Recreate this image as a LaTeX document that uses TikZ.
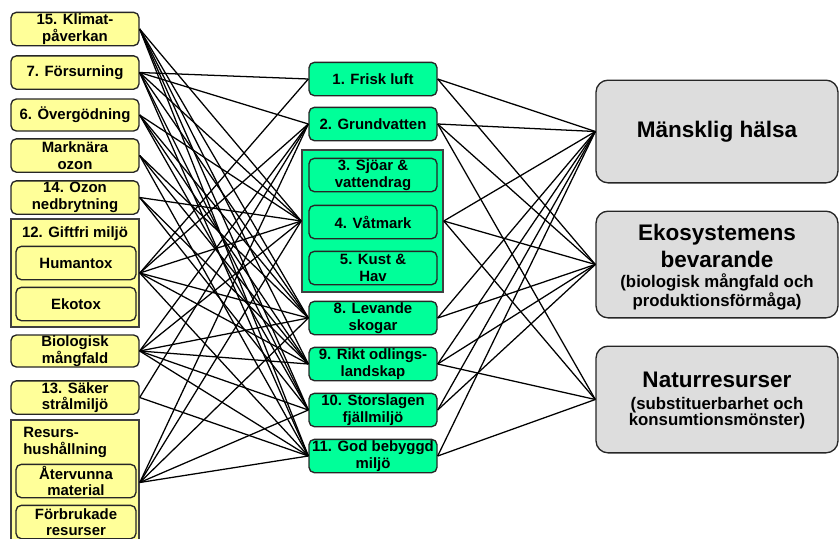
\documentclass[tikz,border=0pt]{standalone}
\usepackage{fontspec}
\setmainfont{Liberation Sans}
\usepackage{tikz}
\usetikzlibrary{positioning}
\definecolor{paleyellow}{RGB}{255,255,153}
\definecolor{mintgreen}{RGB}{0,255,153}
\definecolor{lightgray}{RGB}{221,221,221}
\tikzstyle{Lgoal}=[shape=rectangle,rounded corners=4pt,draw=black!85,line width=1pt,fill=paleyellow,minimum width=96pt,minimum height=25pt,inner sep=0pt,align=center,font=\bfseries\fontsize{11.2}{12.4}\selectfont]
\tikzstyle{Lsub}=[Lgoal,minimum width=90pt]
\tikzstyle{Lgroup}=[shape=rectangle,draw=black!75,line width=1.2pt,fill=paleyellow,minimum width=96pt]
\tikzstyle{Mgoal}=[Lgoal,fill=mintgreen]
\tikzstyle{Mgroup}=[Lgroup,fill=mintgreen,minimum width=105.75pt]
\tikzstyle{Rgoal}=[shape=rectangle,rounded corners=9pt,draw=black!85,line width=1pt,fill=lightgray,minimum width=181.5pt,align=center,font=\bfseries\fontsize{16.9}{20.5}\selectfont]
\tikzstyle{Rsub}=[align=center,font=\bfseries\fontsize{12.6}{12.4}\selectfont]
\tikzstyle{grouptitle}=[font=\bfseries\fontsize{11.2}{12.4}\selectfont]
\tikzstyle{link}=[black,line width=0.95pt]
\begin{document}
\begin{tikzpicture}[x=0.75pt,y=-0.75pt]
\useasboundingbox (0,0) rectangle (840,539);

% left column
\node[Lgoal] (KLIM) at (75,29) {15. Klimat-\\påverkan};
\node[Lgoal] (FORS) at (75,72.5) {7. Försurning};
\node[Lgoal,minimum height=24pt] (OVER) at (75,115) {6. Övergödning};
\node[Lgoal] (OZMA) at (75,155.5) {Marknära\\ozon};
\node[Lgoal] (OZNB) at (75,197.5) {14. Ozon\\nedbrytning};
\node[Lgroup,minimum height=81pt] (GIFT) at (75,273) {};
\node[grouptitle] (GIFTT) at (75,234) {12. Giftfri miljö};
\node[Lsub] (HUMT) at (76,263) {Humantox};
\node[Lsub] (EKOT) at (76,304) {Ekotox};
\node[Lgoal,minimum height=24pt] (BIOL) at (75,351) {Biologisk\\mångfald};
\node[Lgoal] (STRL) at (75,397.5) {13. Säker\\strålmiljö};
\node[Lgroup,minimum height=93.75pt] (RESU) at (75,482.5) {};
\node[grouptitle,align=left,anchor=north west,inner sep=0pt] (RESUT) at (23,427) {Resurs-\\hushållning};
\node[Lsub] (ATER) at (76,481) {Återvunna\\material};
\node[Lsub] (FORB) at (76,522) {Förbrukade\\resurser};

% middle column
\node[Mgoal] (LUFT) at (373,79) {1. Frisk luft};
\node[Mgoal] (GRUN) at (373,124) {2. Grundvatten};
\node[Mgroup,minimum height=106.5pt] (VATN) at (372.5,221) {};
\node[Mgoal] (SJOA) at (373,175) {3. Sjöar \&\\vattendrag};
\node[Mgoal] (VATM) at (373,222) {4. Våtmark};
\node[Mgoal] (KUST) at (373,268) {5. Kust \&\\Hav};
\node[Mgoal] (SKOG) at (373,318) {8. Levande\\skogar};
\node[Mgoal] (ODLA) at (373,364) {9. Rikt odlings-\\landskap};
\node[Mgoal] (FJAL) at (373,410) {10. Storslagen\\fjällmiljö};
\node[Mgoal] (BEBY) at (373,456) {11. God bebyggd\\miljö};

% right column
\node[Rgoal,minimum height=77pt] (HALS) at (717,131.5) {Mänsklig hälsa};
\node[Rgoal,minimum height=80pt] (EKOS) at (717,264.5) {};
\node[Rgoal,draw=none,fill=none,minimum width=0pt,minimum height=0pt] (EKOST) at (717,246) {Ekosystemens\\bevarande};
\node[Rsub] (EKOSS) at (717,292) {(biologisk mångfald och\\produktionsförmåga)};
\node[Rgoal,minimum height=80pt] (NATR) at (717,399.5) {};
\node[Rgoal,draw=none,fill=none,minimum width=0pt,minimum height=0pt] (NATRT) at (717,380) {Naturresurser};
\node[Rsub] (NATRS) at (717,413) {(substituerbarhet och\\konsumtionsmönster)};

% left to middle
\path
(KLIM.east) edge [link] (VATN.west)
(KLIM.east) edge [link] (SKOG.west)
(KLIM.east) edge [link] (ODLA.west)
(KLIM.east) edge [link] (FJAL.west)
(KLIM.east) edge [link] (BEBY.west)
(FORS.east) edge [link] (LUFT.west)
(FORS.east) edge [link] (GRUN.west)
(FORS.east) edge [link] (VATN.west)
(FORS.east) edge [link] (SKOG.west)
(FORS.east) edge [link] (FJAL.west)
(FORS.east) edge [link] (BEBY.west)
(OVER.east) edge [link] (VATN.west)
(OVER.east) edge [link] (SKOG.west)
(OVER.east) edge [link] (ODLA.west)
(OVER.east) edge [link] (FJAL.west)
(OZMA.east) edge [link] (SKOG.west)
(OZMA.east) edge [link] (ODLA.west)
(OZMA.east) edge [link] (BEBY.west)
(OZNB.east) edge [link] (VATN.west)
(OZNB.east) edge [link] (ODLA.west)
(OZNB.east) edge [link] (FJAL.west)
(GIFT.east) edge [link] (LUFT.west)
(GIFT.east) edge [link] (GRUN.west)
(GIFT.east) edge [link] (VATN.west)
(GIFT.east) edge [link] (SKOG.west)
(GIFT.east) edge [link] (ODLA.west)
(GIFT.east) edge [link] (BEBY.west)
(BIOL.east) edge [link] (GRUN.west)
(BIOL.east) edge [link] (VATN.west)
(BIOL.east) edge [link] (SKOG.west)
(BIOL.east) edge [link] (ODLA.west)
(BIOL.east) edge [link] (FJAL.west)
(BIOL.east) edge [link] (BEBY.west)
(STRL.east) edge [link] (GRUN.west)
(STRL.east) edge [link] (BEBY.west)
(RESU.east) edge [link] (GRUN.west)
(RESU.east) edge [link] (VATN.west)
(RESU.east) edge [link] (SKOG.west)
(RESU.east) edge [link] (FJAL.west)
(RESU.east) edge [link] (BEBY.west);

% middle to right
\path
(LUFT.east) edge [link] (HALS.west)
(LUFT.east) edge [link] (EKOS.west)
(GRUN.east) edge [link] (HALS.west)
(GRUN.east) edge [link] (EKOS.west)
(GRUN.east) edge [link] (NATR.west)
(VATN.east) edge [link] (HALS.west)
(VATN.east) edge [link] (EKOS.west)
(VATN.east) edge [link] (NATR.west)
(SKOG.east) edge [link] (HALS.west)
(SKOG.east) edge [link] (EKOS.west)
(ODLA.east) edge [link] (HALS.west)
(ODLA.east) edge [link] (EKOS.west)
(ODLA.east) edge [link] (NATR.west)
(FJAL.east) edge [link] (HALS.west)
(FJAL.east) edge [link] (EKOS.west)
(BEBY.east) edge [link] (HALS.west)
(BEBY.east) edge [link] (NATR.west);

\end{tikzpicture}
\end{document}
